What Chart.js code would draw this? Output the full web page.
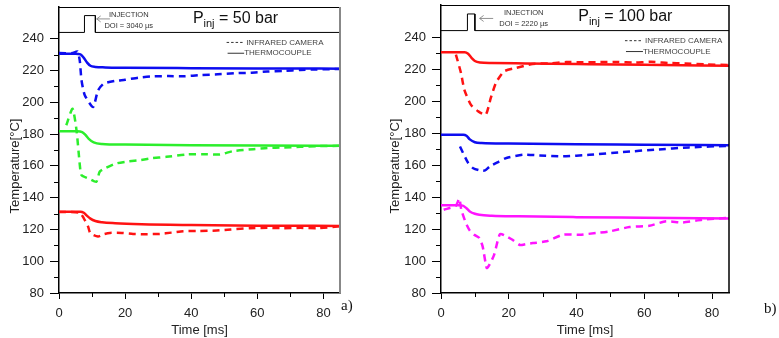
<!DOCTYPE html>
<html>
<head>
<meta charset="UTF-8">
<title>Temperature vs time</title>
<style>
  body { margin:0; background:#fff; width:779px; height:338px; position:relative; overflow:hidden; }
  canvas { position:absolute; top:0; }
  #cA { left:0; }
  #cB { left:380px; }
  .tag { position:absolute; font-family:"Liberation Serif", serif; font-size:15px; color:#111; }
</style>
<script src="https://cdn.jsdelivr.net/npm/chart.js"></script>
</head>
<body>
<canvas id="cA" width="365" height="338"></canvas>
<canvas id="cB" width="370" height="338"></canvas>
<div class="tag" style="left:341px;top:297px">a)</div>
<div class="tag" style="left:764px;top:300px">b)</div>
<script>
// ---- a) P_inj = 50 bar ----
const a_blueTC_t = [0, 5, 6.5, 7.5, 8.5, 9.5, 11, 14, 20, 40, 60, 85];
const a_blueTC_T = [230.6, 230.6, 230.2, 228, 225, 223, 222.3, 222, 221.8, 221.5, 221.3, 221.2];
const a_blueIR_t = [0, 4, 5.6, 6.3, 6.8, 7.8, 10.3, 11.8, 13.5, 17, 20, 24, 28, 33, 38, 43, 48, 53, 58, 63, 68, 73, 78, 85];
const a_blueIR_T = [231, 231, 232, 226, 214, 204.5, 197, 207.5, 211.7, 213.5, 214.2, 215.5, 216.3, 216.5, 216.4, 217.2, 217.6, 218.3, 218.6, 219.4, 219.7, 220.4, 220.7, 221];
const a_greenTC_t = [0, 5.5, 7, 8, 9, 10.5, 13, 20, 40, 60, 85];
const a_greenTC_T = [181.8, 181.8, 181.3, 179.5, 177, 174.8, 173.8, 173.4, 173, 172.8, 172.7];
const a_greenIR_t = [2.2, 4.1, 5.3, 6.3, 6.8, 9, 11.3, 12.3, 14, 17.4, 21, 24.5, 28, 32.5, 38.6, 44.7, 48.7, 52.7, 58.8, 63, 67.9, 73, 78, 85];
const a_greenIR_T = [185.6, 196, 182.4, 160.5, 154.2, 152, 150, 156.3, 158.5, 161.6, 162.8, 163.6, 164.8, 165.7, 167.2, 167.4, 167.2, 169.3, 170.5, 171.2, 171.6, 172, 172.4, 172.6];
const a_redTC_t = [0, 6.5, 7.5, 8.5, 9.5, 11, 13, 17, 25, 40, 60, 85];
const a_redTC_T = [131.2, 131.2, 130.5, 128.5, 126.8, 125.3, 124.5, 123.9, 123.3, 122.8, 122.4, 122.2];
const a_redIR_t = [0, 6.3, 7.5, 8.8, 9.5, 11.8, 13.5, 15.4, 19, 22.4, 26, 30.5, 34, 37.6, 42, 47.7, 52, 57.8, 63, 67.9, 73, 78, 85];
const a_redIR_T = [131, 130.5, 127, 121.8, 117.5, 115.5, 117, 117.8, 117.8, 117.2, 117, 117.2, 118, 118.9, 119, 119.3, 120, 120.8, 121, 120.8, 121, 120.8, 122];
const a_pulse_t = [0, 7.7, 7.7, 11, 11, 85];
const a_pulse_T = [244, 244, 254.6, 254.6, 244, 244];

// ---- b) P_inj = 100 bar ----
const b_redTC_t = [0, 7, 8, 9, 10, 11.5, 15, 25, 40, 60, 85];
const b_redTC_T = [230.4, 230.4, 229.5, 227, 225, 224.1, 223.8, 223.5, 223.1, 222.6, 222.1];
const b_redIR_t = [4.4, 5.9, 6.9, 8.8, 11, 13.2, 14.7, 16.2, 18.6, 22, 27, 32, 37, 42, 47, 52, 57, 62, 67, 72, 78, 85];
const b_redIR_T = [229, 217.5, 207, 197.7, 193.5, 191.4, 201.9, 211.3, 218.5, 220.6, 223.1, 223.5, 224.3, 224.2, 224.3, 224.4, 224, 224.5, 223.8, 223.5, 222.9, 222.5];
const b_blueTC_t = [0, 6.6, 7.5, 8.5, 10, 12, 20, 40, 60, 85];
const b_blueTC_T = [178.9, 178.9, 178.3, 176, 174.2, 173.7, 173.4, 173, 172.7, 172.3];
const b_blueIR_t = [5.6, 8, 9.5, 11.5, 13, 14.4, 17, 19.3, 24.2, 29.1, 36, 43.8, 53.6, 63.4, 73.2, 85];
const b_blueIR_T = [171.6, 161.3, 158, 156.6, 156.6, 159.1, 162, 164.4, 166.4, 166, 165.4, 166.4, 168.1, 169.6, 171, 172];
const b_magTC_t = [0, 4, 5.4, 6.4, 7.5, 8.5, 10, 11.3, 15, 23, 40, 60, 85];
const b_magTC_T = [134.8, 134.8, 134.8, 134.6, 133, 131, 129.5, 128.9, 128.3, 127.9, 127.4, 127, 126.5];
const b_magIR_t = [0.8, 4.4, 5.4, 6, 7.3, 8.5, 9.8, 11.3, 12.3, 13.5, 14.4, 15.7, 17.4, 19.3, 21.1, 23.3, 25, 27.1, 31.1, 36, 40.9, 45.8, 49.7, 55.6, 61.5, 66.4, 71.3, 77.1, 85];
const b_magIR_T = [132, 134.6, 139, 132, 124, 119, 116.4, 114.4, 109, 95.6, 98, 104, 116.8, 115.4, 113.3, 110, 110.5, 111.2, 112.3, 116.4, 116.4, 117.5, 118.5, 121.2, 122, 124.8, 124.1, 125.8, 127];
const b_pulse_t = [0, 7.8, 7.8, 10, 10, 85];
const b_pulse_T = [244, 244, 254.4, 254.4, 244, 244];

const xTicks = [0, 20, 40, 60, 80];
const xMinor = [10, 30, 50, 70];
const yMinor = [90, 110, 130, 150, 170, 190, 210, 230];

const BLUE = '#0d0df0', GREEN = '#2cee2c', RED = '#ff1212', MAG = '#ff14ff';
const FONT = '"Liberation Sans", Arial, sans-serif';

function line(t, T, color, dashed) {
  return {
    data: t.map((x, i) => ({ x: x, y: T[i] })),
    borderColor: color,
    borderWidth: 2.5,
    borderDash: dashed ? [7, 5] : [],
    pointRadius: 0,
    tension: dashed ? 0.2 : 0.4,
    cubicInterpolationMode: dashed ? 'default' : 'monotone'
  };
}

const decor = {
  id: 'decor',
  afterDraw(chart, args, o) {
    const { ctx, chartArea: a, scales: { x, y } } = chart;
    ctx.save();
    // frame
    ctx.lineWidth = 1;
    ctx.strokeStyle = '#000';
    ctx.beginPath();
    ctx.moveTo(a.left, a.top + 0.5); ctx.lineTo(a.right, a.top + 0.5);
    ctx.stroke();
    ctx.strokeStyle = o.rightColor; ctx.lineWidth = o.rightWidth;
    ctx.beginPath();
    ctx.moveTo(a.right, a.top); ctx.lineTo(a.right, a.bottom);
    ctx.stroke();
    // minor ticks
    ctx.strokeStyle = '#000'; ctx.lineWidth = 1;
    for (const v of yMinor) {
      const py = Math.round(y.getPixelForValue(v)) + 0.5;
      ctx.beginPath(); ctx.moveTo(a.left - 5, py); ctx.lineTo(a.left, py); ctx.stroke();
    }
    for (const v of xMinor) {
      const px = Math.round(x.getPixelForValue(v)) + 0.5;
      ctx.beginPath(); ctx.moveTo(px, a.bottom); ctx.lineTo(px, a.bottom + 4); ctx.stroke();
    }
    // y title
    ctx.fillStyle = '#222';
    ctx.font = '13px ' + FONT;
    ctx.textAlign = 'center'; ctx.textBaseline = 'middle';
    ctx.save();
    ctx.translate(15, 166);
    ctx.rotate(-Math.PI / 2);
    ctx.fillText('Temperature[°C]', 0, 0);
    ctx.restore();
    // injection text
    ctx.font = '7.5px ' + FONT;
    ctx.fillStyle = '#333';
    ctx.fillText('INJECTION', x.getPixelForValue(o.injX), y.getPixelForValue(255.1));
    ctx.fillText(o.doi, x.getPixelForValue(o.injX), y.getPixelForValue(248));
    // arrow
    const ax0 = x.getPixelForValue(15.4), ax1 = x.getPixelForValue(11.4), ay = y.getPixelForValue(o.arrowY);
    ctx.strokeStyle = '#777'; ctx.lineWidth = 0.8;
    ctx.beginPath(); ctx.moveTo(ax0, ay); ctx.lineTo(ax1, ay);
    ctx.moveTo(ax1 + 4, ay - 3); ctx.lineTo(ax1, ay); ctx.lineTo(ax1 + 4, ay + 3);
    ctx.stroke();
    // P_inj title
    ctx.fillStyle = '#111';
    ctx.textAlign = 'left'; ctx.textBaseline = 'alphabetic';
    let px = x.getPixelForValue(40.5);
    const py = y.getPixelForValue(249.8);
    ctx.font = '16px ' + FONT;
    ctx.fillText('P', px, py);
    px += ctx.measureText('P').width;
    ctx.font = '11px ' + FONT;
    ctx.fillText('inj', px, py + 4);
    px += ctx.measureText('inj').width;
    ctx.font = '16px ' + FONT;
    ctx.fillText(' = ' + o.p + ' bar', px, py);
    // legend
    const lx0 = x.getPixelForValue(o.legX), lx1 = x.getPixelForValue(o.legX + 5.3);
    const l1 = y.getPixelForValue(237.7), l2 = y.getPixelForValue(230.9);
    ctx.strokeStyle = '#333'; ctx.lineWidth = 1;
    ctx.setLineDash([2.5, 2]);
    ctx.beginPath(); ctx.moveTo(lx0, l1); ctx.lineTo(lx1, l1); ctx.stroke();
    ctx.setLineDash([]);
    ctx.beginPath(); ctx.moveTo(lx0 + 1, l2); ctx.lineTo(lx1, l2); ctx.stroke();
    ctx.font = '8px ' + FONT;
    ctx.fillStyle = '#444';
    ctx.textBaseline = 'middle';
    ctx.fillText('INFRARED CAMERA', lx1 + 2, l1);
    ctx.fillText('THERMOCOUPLE', lx1, l2);
    ctx.restore();
  }
};

function makeChart(id, datasets, o) {
  return new Chart(document.getElementById(id), {
    type: 'line',
    data: { datasets: datasets },
    plugins: [decor],
    options: {
      responsive: false,
      animation: false,
      layout: { padding: { top: o.top, right: o.right, left: 0, bottom: 0 } },
      plugins: { legend: { display: false }, tooltip: { enabled: false }, decor: o },
      scales: {
        x: {
          type: 'linear', min: 0, max: 85,
          afterFit: s => { s.height = 45; },
          afterBuildTicks: s => { s.ticks = xTicks.map(v => ({ value: v })); },
          ticks: { font: { size: 13, family: FONT }, color: '#222', padding: 7, maxRotation: 0 },
          grid: { drawOnChartArea: false, tickLength: 6, tickColor: '#000' },
          border: { color: '#000', width: 1.5 },
          title: { display: true, text: 'Time [ms]', font: { size: 13, family: FONT }, color: '#222', padding: { top: 0, bottom: 0 } }
        },
        y: {
          min: 80, max: 260,
          afterFit: s => { s.width = o.yw; s.paddingTop = 0; s.paddingBottom = 0; },
          ticks: { stepSize: 20, font: { size: 13, family: FONT }, color: '#222', padding: 6,
                   callback: v => v > 240 ? '' : v },
          grid: { drawOnChartArea: false, tickLength: 9,
                  tickColor: c => (c.tick && c.tick.value > 240) ? 'rgba(0,0,0,0)' : '#000' },
          border: { color: '#000', width: 1.5 }
        }
      }
    }
  });
}

makeChart('cA', [
  line(a_pulse_t, a_pulse_T, '#000', false),
  line(a_blueIR_t, a_blueIR_T, BLUE, true),
  line(a_blueTC_t, a_blueTC_T, BLUE, false),
  line(a_greenIR_t, a_greenIR_T, GREEN, true),
  line(a_greenTC_t, a_greenTC_T, GREEN, false),
  line(a_redIR_t, a_redIR_T, RED, true),
  line(a_redTC_t, a_redTC_T, RED, false)
].map((d, i) => i === 0 ? Object.assign(d, { borderWidth: 1, tension: 0, cubicInterpolationMode: 'default' }) : d),
{ top: 7, right: 25, yw: 59, rightColor: '#888', rightWidth: 2, injX: 21.1, doi: 'DOI = 3040 µs', arrowY: 252.5, p: '50', legX: 50.7 });

makeChart('cB', [
  line(b_pulse_t, b_pulse_T, '#000', false),
  line(b_redIR_t, b_redIR_T, RED, true),
  line(b_redTC_t, b_redTC_T, RED, false),
  line(b_blueIR_t, b_blueIR_T, BLUE, true),
  line(b_blueTC_t, b_blueTC_T, BLUE, false),
  line(b_magIR_t, b_magIR_T, MAG, true),
  line(b_magTC_t, b_magTC_T, MAG, false)
].map((d, i) => i === 0 ? Object.assign(d, { borderWidth: 1, tension: 0, cubicInterpolationMode: 'default' }) : d),
{ top: 5, right: 21, yw: 61, rightColor: '#000', rightWidth: 1.5, injX: 24.4, doi: 'DOI = 2220 µs', arrowY: 251.6, p: '100', legX: 54.3 });
</script>
</body>
</html>
